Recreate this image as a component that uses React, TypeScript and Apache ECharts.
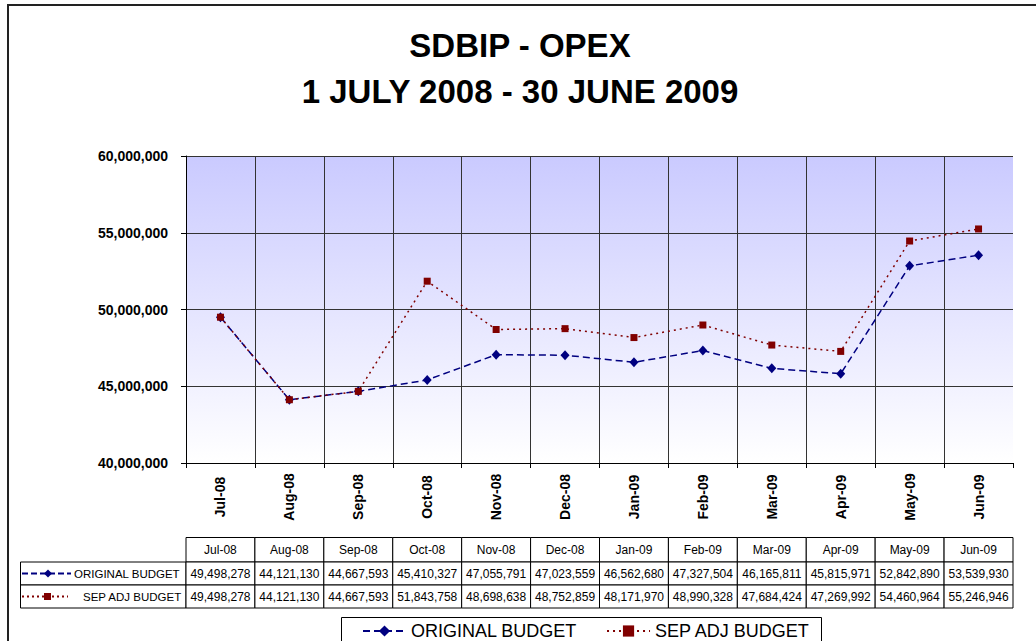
import React, { useEffect, useRef } from 'react';
import * as echarts from 'echarts';

const months = ['Jul-08', 'Aug-08', 'Sep-08', 'Oct-08', 'Nov-08', 'Dec-08', 'Jan-09', 'Feb-09', 'Mar-09', 'Apr-09', 'May-09', 'Jun-09'];
const originalBudget = [49498278, 44121130, 44667593, 45410327, 47055791, 47023559, 46562680, 47327504, 46165811, 45815971, 52842890, 53539930];
const sepAdjBudget = [49498278, 44121130, 44667593, 51843758, 48698638, 48752859, 48171970, 48990328, 47684424, 47269992, 54460964, 55246946];
const seriesNames = ['ORIGINAL BUDGET', 'SEP ADJ BUDGET'];
const yMin = 40000000;
const yMax = 60000000;
const yStep = 5000000;

const fmt = (v: number) => v.toLocaleString('en-US');

export default function App() {
  const ref = useRef<HTMLDivElement>(null);
  useEffect(() => {
    const chart = echarts.init(ref.current!, null, { renderer: 'svg' });
    const FONT = 'Liberation Sans, Arial, sans-serif';
    const NAVY = '#000080';
    const RED = '#800000';
    const gridLeft = 186, gridTop = 156, gridW = 827, gridH = 307;
    const colW = gridW / months.length;
    const headerTop = 537.5, headerH = 24.5, rowH = 23;
    const labelLeft = 20.5;

    const graphic: any[] = [];
    // outer frame
    graphic.push({ type: 'rect', silent: true, shape: { x: 8, y: 5, width: 1100, height: 700 }, style: { fill: 'none', stroke: '#222', lineWidth: 2 } });

    const txt = (x: number, y: number, text: string, size: number, align = 'center') => ({
      type: 'text', silent: true, x, y,
      style: { text, font: `${size}px ${FONT}`, fill: '#000', align, verticalAlign: 'middle', textAlign: align, textVerticalAlign: 'middle' },
    });
    const cell = (x: number, y: number, w: number, h: number) => ({
      type: 'rect', silent: true, shape: { x, y, width: w, height: h }, style: { fill: '#fff', stroke: '#000', lineWidth: 1 },
    });

    // header
    months.forEach((m, i) => {
      const x = gridLeft + i * colW;
      graphic.push(cell(x, headerTop, colW, headerH));
      graphic.push(txt(x + colW / 2, headerTop + headerH / 2, m, 12));
    });
    const rows = [
      { name: seriesNames[0], values: originalBudget, color: NAVY, dash: [6, 3], marker: 'diamond', textX: 74 },
      { name: seriesNames[1], values: sepAdjBudget, color: RED, dash: [2, 3], marker: 'square', textX: 83 },
    ];
    rows.forEach((r, ri) => {
      const y = headerTop + headerH + ri * rowH;
      const cy = y + rowH / 2;
      graphic.push(cell(labelLeft, y, gridLeft - labelLeft, rowH));
      const keyEnd = r.marker === 'diamond' ? 71 : 68;
      graphic.push({ type: 'line', silent: true, shape: { x1: 22, y1: cy, x2: keyEnd, y2: cy }, style: { stroke: r.color, lineWidth: 2, lineDash: r.dash } });
      if (r.marker === 'diamond') {
        graphic.push({ type: 'polygon', silent: true, shape: { points: [[48, cy - 4], [52, cy], [48, cy + 4], [44, cy]] }, style: { fill: r.color } });
      } else {
        graphic.push({ type: 'rect', silent: true, shape: { x: 44, y: cy - 3.5, width: 7, height: 7 }, style: { fill: r.color } });
      }
      graphic.push(txt(r.textX, cy + 0.5, r.name, 11.5, 'left'));
      r.values.forEach((v, i) => {
        const x = gridLeft + i * colW;
        graphic.push(cell(x, y, colW, rowH));
        graphic.push(txt(x + colW / 2, cy + 0.5, fmt(v), 12));
      });
    });
    // legend box
    graphic.push({ type: 'rect', silent: true, shape: { x: 341.5, y: 617.5, width: 480, height: 40 }, style: { fill: '#fff', stroke: '#000', lineWidth: 1 }, z: -1 });

    chart.setOption({
      animation: false,
      backgroundColor: '#fff',
      title: {
        text: 'SDBIP - OPEX\n1 JULY 2008 - 30 JUNE 2009',
        left: 520,
        top: 22,
        padding: 0,
        textAlign: 'center',
        textStyle: { fontSize: 33, fontWeight: 'bold', fontFamily: FONT, lineHeight: 46, color: '#000' },
      },
      legend: {
        data: seriesNames,
        left: 362,
        top: 622,
        padding: 0,
        itemWidth: 43,
        itemHeight: 14,
        itemGap: 29,
        textStyle: { fontSize: 18, fontFamily: FONT, color: '#000', lineHeight: 18 },
        z: 10,
      },
      grid: {
        left: gridLeft, top: gridTop, width: gridW, height: gridH,
        show: true,
        borderWidth: 0,
        backgroundColor: new echarts.graphic.LinearGradient(0, 0, 0, 1, [
          { offset: 0, color: '#CACAFF' },
          { offset: 1, color: '#FFFFFF' },
        ]),
      },
      xAxis: {
        type: 'category',
        data: months,
        boundaryGap: true,
        axisLine: { lineStyle: { color: '#000', width: 1 } },
        axisTick: { show: true, length: 5, lineStyle: { color: '#000' } },
        splitLine: { show: true, showMaxLine: false, lineStyle: { color: '#333', width: 1 } },
        axisLabel: {
          rotate: 90, margin: 34, align: 'center', verticalAlign: 'middle',
          fontWeight: 'bold', fontSize: 14, fontFamily: FONT, color: '#000', interval: 0,
        },
      },
      yAxis: {
        type: 'value',
        min: yMin, max: yMax, interval: yStep,
        axisLine: { show: true, lineStyle: { color: '#000', width: 1 } },
        axisTick: { show: true, length: 5, lineStyle: { color: '#000' } },
        splitLine: { show: true, lineStyle: { color: '#333', width: 1 } },
        axisLabel: { formatter: (v: number) => fmt(v), margin: 18, fontWeight: 'bold', fontSize: 14, fontFamily: FONT, color: '#000' },
      },
      series: [
        {
          name: seriesNames[0], type: 'line', data: originalBudget,
          symbol: 'diamond', symbolSize: [9, 10],
          lineStyle: { color: NAVY, width: 1.5, type: [7, 4] },
          itemStyle: { color: NAVY },
        },
        {
          name: seriesNames[1], type: 'line', data: sepAdjBudget,
          symbol: 'rect', symbolSize: 7,
          lineStyle: { color: RED, width: 1.5, type: [2, 4] },
          itemStyle: { color: RED },
        },
      ],
      graphic,
    });
    return () => chart.dispose();
  }, []);
  return <div ref={ref} style={{ position: 'absolute', left: 0, top: 0, width: 1036, height: 641, background: '#fff' }} />;
}
